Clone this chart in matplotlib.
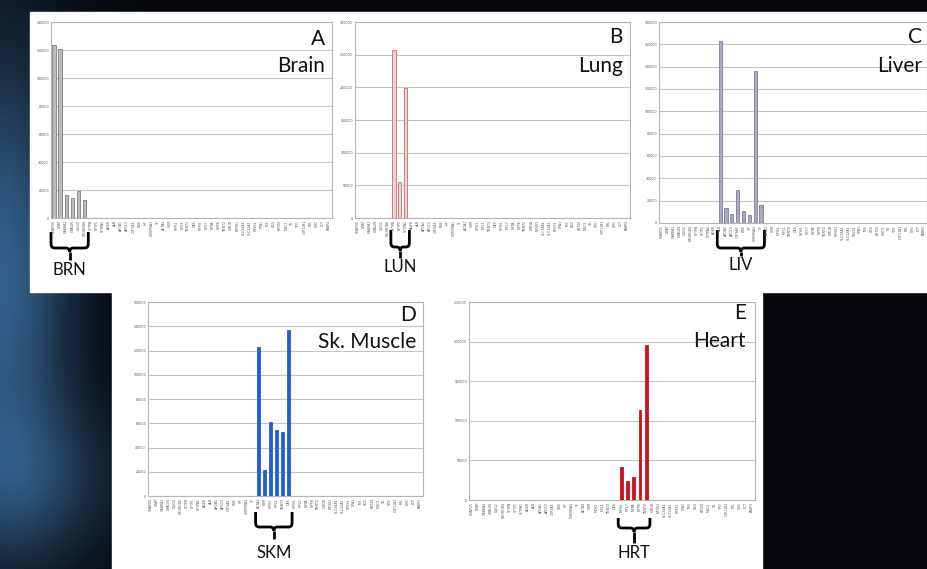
import numpy as np
import matplotlib
matplotlib.use('Agg')
import matplotlib.pyplot as plt
from matplotlib.patches import Rectangle, PathPatch
from matplotlib.path import Path
from matplotlib import transforms

# Genes on the x axis, grouped by tissue
brn_genes = ['SNAP25', 'GFAP', 'GABRA1', 'OPALIN', 'OLIG2', 'NEUROD6']
lun_genes = ['SFTPB', 'SFTPC', 'SFTPA1']
liv_genes = ['ALB', 'APOA1', 'APOC3', 'CYP3A4', 'FGB', 'HP', 'SERPINA1', 'TF']
skm_genes = ['ACTA1', 'CKM', 'MYH2', 'MYL1', 'TNNT3', 'DES']
hrt_genes = ['MYH6', 'MYL7', 'NPPA', 'NPPB', 'TNNT2']
other_genes = ['UMOD', 'NPHS1', 'SLC34A1', 'SLC12A1', 'PRSS1', 'CPA1', 'INS',
               'GCG', 'KRT20', 'MUC2', 'TG', 'TPO', 'CYP11B1', 'PRL', 'GH1',
               'LCT', 'FABP2']
genes = brn_genes + lun_genes + ['AGER'] + liv_genes + skm_genes + hrt_genes + other_genes

# Expression of each tissue's marker genes in that tissue
brn_values = [123900, 120800, 16400, 14000, 19200, 12800]
lun_values = [256800, 54900, 199300]
liv_values = [163000, 13700, 8000, 29850, 11000, 6900, 136100, 16400]
skm_values = [122500, 21400, 61400, 54800, 52900, 136700]
hrt_values = [41200, 23500, 28600, 113900, 196200]

W, H = 928, 569
fig = plt.figure(figsize=(W / 100, H / 100), dpi=100)

# dark slide background with a blue glow on the left
bg = fig.add_axes([0, 0, 1, 1], zorder=-10)
yy, xx = np.mgrid[0:H, 0:W]
glow = np.exp(-(xx / 70.0) ** 2 - ((yy - 280) / 230.0) ** 2)
glow += 0.5 * np.exp(-((xx - 30) / 90.0) ** 2 - ((yy - 480) / 80.0) ** 2)
base = np.array([0.02, 0.03, 0.05])
blue = np.array([0.20, 0.38, 0.55])
img = base + np.clip(glow, 0, 1)[..., None] * (blue - base)
bg.imshow(img, extent=[0, W, H, 0], aspect='auto')
bg.set_xlim(0, W)
bg.set_ylim(H, 0)
bg.axis('off')

# white slide panels
fig.patches.append(Rectangle((30 / W, 1 - 292 / H), (W - 30) / W, 280 / H,
                             transform=fig.transFigure, color='white', zorder=-5))
fig.patches.append(Rectangle((112 / W, 0), 650 / W, 1 - 277 / H,
                             transform=fig.transFigure, color='white', zorder=-5))

x = np.arange(len(genes))


def full(group, values):
    out = np.zeros(len(genes))
    for g, v in zip(group, values):
        out[genes.index(g)] = v
    return out


def add_panel(box, values, ymax, step, face, edge, width):
    left, right, top, bottom = box
    ax = fig.add_axes([left / W, 1 - bottom / H, (right - left) / W, (bottom - top) / H])
    ax.bar(x, values, width=width, color=face, edgecolor=edge, linewidth=0.6, zorder=3)
    ax.set_xlim(-0.5, len(genes) - 0.5)
    ax.set_ylim(0, ymax)
    ax.set_yticks(np.arange(0, ymax + 1, step))
    ax.set_yticklabels([str(int(v)) for v in np.arange(0, ymax + 1, step)])
    ax.set_xticks(x)
    ax.set_xticklabels(genes, rotation=90)
    ax.tick_params(axis='both', labelsize=2.3, colors='#555555', length=0, pad=1.5)
    ax.grid(axis='y', color='#c4c4c4', linewidth=0.8, zorder=0)
    for s in ax.spines.values():
        s.set_color('#b4b4b4')
        s.set_linewidth(0.8)
    ax.set_facecolor('white')
    return ax


def add_bracket(ax, group, label, top, mid, stem, txt):
    # curly brace under a gene group; offsets are pixels below the axes
    i0 = genes.index(group[0]) - 0.5
    i1 = genes.index(group[-1]) + 0.6
    xc = (i0 + i1) / 2
    h = ax.get_position().height * H
    f = lambda px: -px / h
    r = 0.6
    tr = transforms.blended_transform_factory(ax.transData, ax.transAxes)
    codes = [Path.MOVETO, Path.LINETO, Path.CURVE3, Path.CURVE3,
             Path.LINETO, Path.CURVE3, Path.CURVE3]
    for xe, sgn in ((i0, 1), (i1, -1)):
        verts = [(xe, f(top)), (xe, f(mid - 4)), (xe, f(mid)), (xe + sgn * r, f(mid)),
                 (xc - sgn * r, f(mid)), (xc, f(mid)), (xc, f(mid + 4))]
        ax.add_patch(PathPatch(Path(verts, codes), fill=False, lw=2.0, color='black',
                               transform=tr, clip_on=False))
    ax.plot([xc, xc], [f(mid + 4), f(stem)], color='black', lw=2.0,
            transform=tr, clip_on=False, solid_capstyle='butt')
    ax.text(xc, f(txt), label, transform=tr, ha='center', va='top',
            fontsize=12, family='Lato', color='#111111', clip_on=False)


def corner_label(right, y1, y2, letter, tissue):
    fig.text(right / W, 1 - y1 / H, letter, ha='right', va='center',
             fontsize=15, family='Lato', color='#111111')
    fig.text(right / W, 1 - y2 / H, tissue, ha='right', va='center',
             fontsize=15, family='Lato', color='#111111')


ax_a = add_panel((51, 332, 22, 218), full(brn_genes, brn_values), 140000, 20000,
                 '#bcbcbc', '#7c7c7c', 0.55)
ax_b = add_panel((355, 630, 22, 218), full(lun_genes, lun_values), 300000, 50000,
                 '#f2d0d0', '#c07070', 0.55)
ax_c = add_panel((659, 927, 22, 223), full(liv_genes, liv_values), 180000, 20000,
                 '#aaaac6', '#7c7c9c', 0.55)
ax_d = add_panel((148, 423, 302, 496), full(skm_genes, skm_values), 160000, 20000,
                 '#1f5fd0', '#1f5fd0', 0.45)
ax_e = add_panel((469, 755, 302, 500), full(hrt_genes, hrt_values), 250000, 50000,
                 '#c8151b', '#c8151b', 0.45)

add_bracket(ax_a, brn_genes, 'BRN', top=14, mid=30, stem=42, txt=44)
add_bracket(ax_b, lun_genes, 'LUN', top=12, mid=29, stem=40, txt=41)
add_bracket(ax_c, liv_genes, 'LIV', top=7, mid=25, stem=33, txt=34)
add_bracket(ax_d, skm_genes, 'SKM', top=16, mid=31, stem=43, txt=49)
add_bracket(ax_e, hrt_genes, 'HRT', top=18, mid=28, stem=43, txt=45)

corner_label(325, 39, 66, 'A', 'Brain')
corner_label(623, 37, 66, 'B', 'Lung')
corner_label(922, 37, 66, 'C', 'Liver')
corner_label(416, 315, 342, 'D', 'Sk. Muscle')
corner_label(746, 313, 341, 'E', 'Heart')

fig.savefig('out.png', dpi=100)
